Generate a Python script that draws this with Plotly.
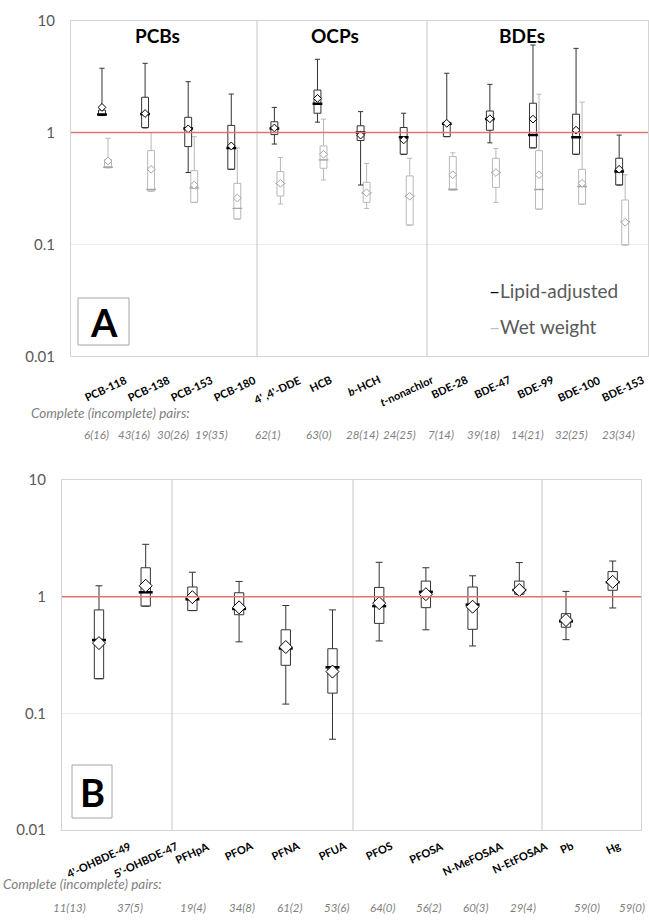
import plotly.graph_objects as go

W, H = 649, 923

# ---------------- DATA ----------------
top_categories = ["PCB-118", "PCB-138", "PCB-153", "PCB-180", "4' ,4'-DDE", "HCB",
                  "<i>b</i>-HCH", "<i>t</i>-nonachlor", "BDE-28", "BDE-47", "BDE-99", "BDE-100", "BDE-153"]
top_pairs = ["6(16)", "43(16)", "30(26)", "19(35)", "62(1)", "63(0)", "28(14)", "24(25)",
             "7(14)", "39(18)", "14(21)", "32(25)", "23(34)"]

lipid_low = [1.42, 1.10, 0.44, 0.47, 0.79, 1.24, 0.34, 0.64, 0.92, 0.81, 0.73, 0.64, 0.34]
lipid_q1 = [1.42, 1.11, 0.75, 0.47, 0.96, 1.49, 0.85, 0.64, 0.92, 1.05, 0.73, 0.64, 0.34]
lipid_med = [1.45, 1.47, 1.09, 0.73, 1.09, 1.81, 1.00, 0.91, 1.20, 1.32, 0.95, 0.91, 0.45]
lipid_q3 = [1.59, 2.07, 1.37, 1.16, 1.25, 2.40, 1.15, 1.11, 1.24, 1.56, 1.83, 1.46, 0.59]
lipid_high = [3.76, 4.16, 2.85, 2.21, 1.68, 4.52, 1.54, 1.49, 3.39, 2.70, 6.06, 5.66, 0.95]
lipid_mean = [1.68, 1.48, 1.08, 0.76, 1.10, 2.02, 0.95, 0.86, 1.21, 1.33, 1.32, 1.05, 0.47]

wet_low = [0.485, 0.30, 0.238, 0.169, 0.23, 0.377, 0.21, 0.149, 0.307, 0.238, 0.207, 0.229, 0.099]
wet_q1 = [0.485, 0.30, 0.238, 0.169, 0.271, 0.48, 0.238, 0.149, 0.307, 0.324, 0.207, 0.229, 0.099]
wet_med = [0.49, 0.31, 0.32, 0.21, 0.35, 0.57, 0.29, 0.27, 0.31, 0.44, 0.31, 0.33, 0.16]
wet_q3 = [0.577, 0.69, 0.457, 0.352, 0.448, 0.76, 0.36, 0.41, 0.61, 0.59, 0.69, 0.47, 0.25]
wet_high = [0.89, 1.00, 0.92, 0.73, 0.60, 1.32, 0.53, 0.59, 0.66, 0.72, 2.20, 1.87, 0.42]
wet_mean = [0.557, 0.47, 0.34, 0.26, 0.352, 0.64, 0.29, 0.27, 0.42, 0.44, 0.42, 0.352, 0.158]

bot_categories = ["4'-OHBDE-49", "5'-OHBDE-47", "PFHpA", "PFOA", "PFNA", "PFUA", "PFOS", "PFOSA",
                  "N-MeFOSAA", "N-EtFOSAA", "Pb", "Hg"]
bot_pairs = ["11(13)", "37(5)", "19(4)", "34(8)", "61(2)", "53(6)", "64(0)", "56(2)",
             "60(3)", "29(4)", "59(0)", "59(0)"]
bot_low = [0.198, 0.83, 0.76, 0.41, 0.12, 0.06, 0.417, 0.52, 0.378, 1.05, 0.428, 0.80]
bot_q1 = [0.198, 0.83, 0.76, 0.70, 0.258, 0.149, 0.59, 0.805, 0.525, 1.05, 0.547, 1.135]
bot_med = [0.425, 1.09, 0.95, 0.785, 0.36, 0.248, 0.83, 1.10, 0.855, 1.14, 0.615, 1.33]
bot_q3 = [0.77, 1.77, 1.21, 1.08, 0.52, 0.358, 1.20, 1.36, 1.21, 1.36, 0.715, 1.64]
bot_high = [1.24, 2.81, 1.62, 1.35, 0.84, 0.77, 1.97, 1.77, 1.51, 1.96, 1.11, 2.02]
bot_mean = [0.40, 1.24, 0.99, 0.81, 0.37, 0.228, 0.88, 1.05, 0.82, 1.14, 0.63, 1.34]

y_ticks = [0.01, 0.1, 1, 10]
y_tick_text = ["0.01", "0.1", "1", "10"]

# ---------------- HELPERS ----------------
def px(x):
    return x / W

def py(y):
    return 1 - y / H

FONT = "Lato"
fig = go.Figure()

def add_group(xs, low, q1, med, q3, high, mean, color, mcolor, bw, medsize, medw, dsize, xa, ya):
    fig.add_trace(go.Box(x=xs, lowerfence=low, q1=q1, median=med, q3=q3, upperfence=high,
                         width=bw, whiskerwidth=0.75, boxpoints=False,
                         line=dict(color=color, width=1), fillcolor="rgba(255,255,255,0)",
                         xaxis=xa, yaxis=ya, showlegend=False, hoverinfo="skip"))
    fig.add_trace(go.Scatter(x=xs, y=med, mode="markers", xaxis=xa, yaxis=ya, showlegend=False,
                             hoverinfo="skip",
                             marker=dict(symbol="line-ew", size=medsize,
                                         line=dict(color=mcolor, width=medw))))
    fig.add_trace(go.Scatter(x=xs, y=mean, mode="markers", xaxis=xa, yaxis=ya, showlegend=False,
                             hoverinfo="skip",
                             marker=dict(symbol="diamond", size=dsize, color="white",
                                         line=dict(color=mcolor, width=1))))

nt = len(top_categories)
nb = len(bot_categories)
top_idx = list(range(nt))
bot_idx = list(range(nb))

add_group([i + 0.07 for i in top_idx], wet_low, wet_q1, wet_med, wet_q3, wet_high, wet_mean,
          "#b8b8b8", "#a6a6a6", 0.16, 7, 1.3, 6, "x", "y")
add_group([i - 0.07 for i in top_idx], lipid_low, lipid_q1, lipid_med, lipid_q3, lipid_high, lipid_mean,
          "#333333", "#000000", 0.16, 7, 2.5, 6, "x", "y")
add_group(bot_idx, bot_low, bot_q1, bot_med, bot_q3, bot_high, bot_mean,
          "#333333", "#000000", 0.2, 10, 2.5, 10, "x2", "y2")

BORDER = "#d4d4d4"
axis_common = dict(showgrid=False, zeroline=False, showticklabels=False, showline=True,
                   linecolor=BORDER, linewidth=1, mirror=True, ticks="")
yaxis_common = dict(type="log", range=[-2, 1], tickvals=y_ticks, ticktext=y_tick_text,
                    showgrid=True, gridcolor="#ebebeb", gridwidth=1, zeroline=False,
                    showline=True, linecolor=BORDER, linewidth=1, mirror=True, ticks="",
                    ticklabelstandoff=12, tickfont=dict(family=FONT, size=15, color="#595959"))

top_l, top_r, top_t, top_b = 71, 648, 20.7, 356.4
bot_l, bot_r, bot_t, bot_b = 62, 641, 480, 830

fig.update_layout(
    width=W, height=H, margin=dict(l=0, r=0, t=0, b=0, autoexpand=False),
    paper_bgcolor="white", plot_bgcolor="white", boxmode="overlay",
    xaxis=dict(domain=[px(top_l), px(top_r)], range=[-0.789, 12.599], anchor="y", **axis_common),
    yaxis=dict(domain=[py(top_b), py(top_t)], anchor="x", **yaxis_common),
    xaxis2=dict(domain=[px(bot_l), px(bot_r)], range=[-0.792, 11.606], anchor="y2", **axis_common),
    yaxis2=dict(domain=[py(bot_b), py(bot_t)], anchor="x2", **yaxis_common),
)

shapes = []
SEP = "#c4c4c4"
for s in [3.527, 7.471]:
    shapes.append(dict(type="line", xref="x", yref="y domain", x0=s, x1=s, y0=0, y1=1,
                       line=dict(color=SEP, width=1)))
for s in [1.563, 5.439, 9.486]:
    shapes.append(dict(type="line", xref="x2", yref="y2 domain", x0=s, x1=s, y0=0, y1=1,
                       line=dict(color=SEP, width=1)))
shapes.append(dict(type="line", xref="x domain", yref="y", x0=0, x1=1, y0=1, y1=1,
                   line=dict(color="#e57373", width=1.5)))
shapes.append(dict(type="line", xref="x2 domain", yref="y2", x0=0, x1=1, y0=1, y1=1,
                   line=dict(color="#e57373", width=1.5)))
# panel letter boxes
shapes.append(dict(type="rect", xref="paper", yref="paper", x0=px(78), x1=px(129), y0=py(345), y1=py(298),
                   line=dict(color="#a6a6a6", width=1), fillcolor="white"))
shapes.append(dict(type="rect", xref="paper", yref="paper", x0=px(72), x1=px(112), y0=py(818), y1=py(765),
                   line=dict(color="#a6a6a6", width=1), fillcolor="white"))
fig.update_layout(shapes=shapes)

ann = []

def note(text, x, y, size, color="black", xanchor="center", yanchor="middle", xref="paper", angle=0):
    ann.append(dict(text=text, x=x, y=y, xref=xref, yref="paper", xanchor=xanchor, yanchor=yanchor,
                    textangle=angle, showarrow=False, font=dict(family=FONT, size=size, color=color)))

# group titles
for txt, xc in [("PCBs", 157), ("OCPs", 335), ("BDEs", 522)]:
    note("<b>%s</b>" % txt, px(xc), py(35), 19)
# legend
note('<span style="color:#000000">\u2013</span>Lipid-adjusted', px(487), py(291), 19, "#595959", xanchor="left")
note('<span style="color:#bfbfbf">\u2013</span>Wet weight', px(487), py(326), 19, "#595959", xanchor="left")
# panel letters
note("<b>A</b>", px(103.5), py(322), 38)
note("<b>B</b>", px(92), py(792), 38)
# x category labels
for i, c in enumerate(top_categories):
    note("<b>%s</b>" % c, i, py(370), 11, yanchor="top", xref="x", angle=-25)
for i, c in enumerate(bot_categories):
    note("<b>%s</b>" % c, i, py(836), 11, yanchor="top", xref="x2", angle=-25)
# pairs text
PC = "#7f7f7f"
note("<i>Complete (incomplete) pairs:</i>", px(29), py(413), 13.5, PC, xanchor="left")
note("<i>Complete (incomplete) pairs:</i>", px(1), py(884), 13.5, PC, xanchor="left")
top_pair_x = [96, 134, 172.5, 211, 267.5, 318, 362, 399, 441, 483, 527, 571, 618]
bot_pair_x = [69, 130, 193, 242, 289, 336, 382, 428, 475, 523, 587, 632]
for t, xc in zip(top_pairs, top_pair_x):
    note("<i>%s</i>" % t, px(xc), py(434), 11.5, PC)
for t, xc in zip(bot_pairs, bot_pair_x):
    note("<i>%s</i>" % t, px(xc), py(907), 11.5, PC)
fig.update_layout(annotations=ann)

fig.write_html("out.html", config={"displayModeBar": False, "staticPlot": True},
               post_script="document.body.style.margin='0';document.body.style.overflow='hidden';")
